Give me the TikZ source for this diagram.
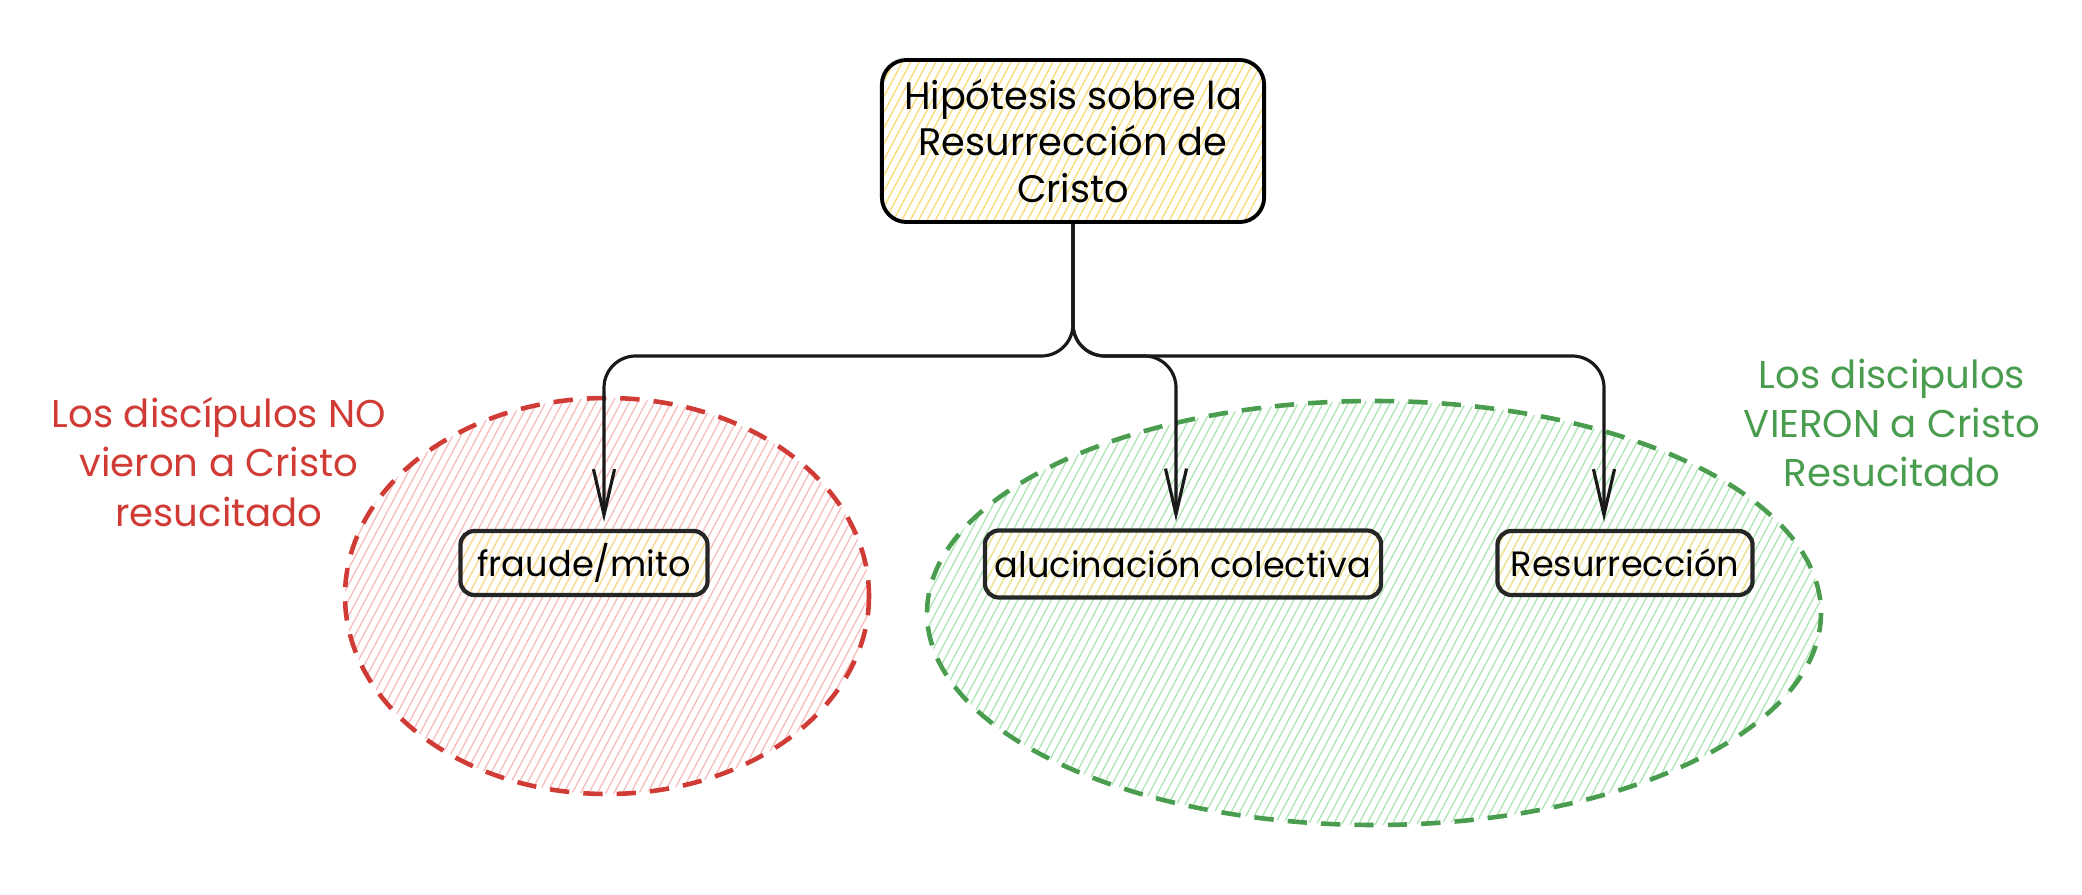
\documentclass[tikz,border=0pt]{standalone}
\usepackage{fontspec}
\setmainfont{Poppins}
\usetikzlibrary{arrows.meta,patterns.meta}

\definecolor{zonered}{HTML}{D03B36}
\definecolor{zonegreen}{HTML}{4A9D4F}
\definecolor{hatchred}{HTML}{F7BDBD}
\definecolor{hatchgreen}{HTML}{ADE6B4}
\definecolor{hatchyellow}{HTML}{F7DC78}

\begin{document}
\begin{tikzpicture}[x=0.01cm,y=-0.01cm,
    hatch/.style={pattern={Lines[angle=62,distance=2.1pt,line width=0.38pt]}},
    zone/.style={hatch,line width=1.3pt,dash pattern=on 5.5pt off 4pt},
    topbox/.style={draw=black,line width=1.1pt,rounded corners=7pt,hatch,pattern color=hatchyellow,
      align=center,font=\fontsize{10.9}{13.2}\selectfont,minimum width=3.82cm,minimum height=1.62cm,inner sep=0pt},
    leaf/.style={draw=black!85,line width=1.2pt,rounded corners=4pt,hatch,pattern color=hatchyellow!80,
      font=\fontsize{10}{12}\selectfont,minimum height=0.64cm,inner sep=0pt},
    zonetext/.style={align=center,font=\fontsize{11}{14}\selectfont},
    conn/.style={draw=black!90,line width=0.9pt,rounded corners=9pt,-{Straight Barb[length=13pt,width=6pt]},shorten >=2pt}]
  \useasboundingbox (0,0) rectangle (2082,894);

  % zonas
  \draw[zone,draw=zonered,pattern color=hatchred] (607,596) ellipse [x radius=262, y radius=198];
  \draw[zone,draw=zonegreen,pattern color=hatchgreen] (1374,613) ellipse [x radius=447, y radius=212];
  \node[zonetext,text=zonered] (noVieron) at (219,462) {Los discípulos NO\\vieron a Cristo\\resucitado};
  \node[zonetext,text=zonegreen] (vieron) at (1892,423) {Los discipulos\\VIERON a Cristo\\Resucitado};

  % nodos
  \node[topbox] (hyp) at (1073,141) {Hipótesis sobre la\\Resurrección de\\Cristo};
  \node[leaf,minimum width=2.47cm] (fraude) at (584,563) {fraude/mito};
  \node[leaf,minimum width=3.96cm,minimum height=0.67cm] (aluc) at (1183,564) {alucinación colectiva};
  \node[leaf,minimum width=2.55cm] (resu) at (1625,563) {Resurrección};

  % flechas
  \coordinate (split) at (1073,356);
  \draw[conn] (hyp.south) -- (split) -| ([xshift=0.2cm]fraude.north);
  \draw[conn] (hyp.south) -- (split) -| ([xshift=-0.07cm]aluc.north);
  \draw[conn] (hyp.south) -- (split) -| ([xshift=-0.21cm]resu.north);
\end{tikzpicture}
\end{document}
